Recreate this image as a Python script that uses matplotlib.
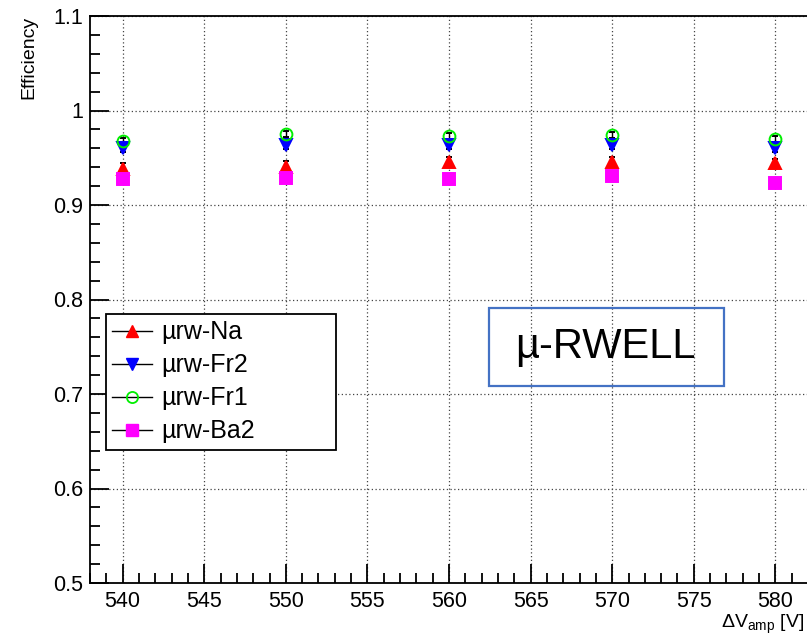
import numpy as np
import matplotlib
matplotlib.use("Agg")
import matplotlib.pyplot as plt
from matplotlib.lines import Line2D
from matplotlib.transforms import IdentityTransform
from matplotlib.ticker import MultipleLocator

plt.rcParams['font.family'] = ['Liberation Sans', 'DejaVu Sans']
plt.rcParams['mathtext.fontset'] = 'custom'
plt.rcParams['mathtext.rm'] = 'Liberation Sans'
plt.rcParams['mathtext.it'] = 'Liberation Sans:italic'

# amplification voltage [V]
hv = [540, 550, 560, 570, 580]

# efficiency per chamber, with errors
eff_na = [0.938, 0.9405, 0.946, 0.946, 0.944]
err_na = [0.006, 0.006, 0.005, 0.005, 0.005]
eff_fr2 = [0.9606, 0.9635, 0.9635, 0.9635, 0.960]
err_fr2 = [0.004, 0.004, 0.004, 0.004, 0.004]
eff_fr1 = [0.968, 0.975, 0.973, 0.974, 0.9695]
err_fr1 = [0.003, 0.003, 0.003, 0.003, 0.003]
eff_ba2 = [0.927, 0.9286, 0.9275, 0.931, 0.9236]
err_ba2 = [0.005, 0.005, 0.005, 0.005, 0.005]

labels = ['µrw-Na', 'µrw-Fr2', 'µrw-Fr1', 'µrw-Ba2']

W, H = 807, 634
fig = plt.figure(figsize=(W / 100, H / 100), dpi=100)
ax = fig.add_axes([90 / W, (H - 583) / H, 718 / W, 567 / H])

series = [
    (eff_na, err_na, '^', 'red', 'red', 8),
    (eff_fr2, err_fr2, 'v', 'blue', 'blue', 8),
    (eff_fr1, err_fr1, 'o', 'none', '#00ee00', 8.5),
    (eff_ba2, err_ba2, 's', '#ff00ff', '#ff00ff', 8),
]
for y, e, m, fc, ec, ms in series:
    ax.errorbar(hv, y, yerr=e, fmt=m, mfc=fc, mec=ec, ms=ms, mew=1.4,
                ecolor='black', elinewidth=1.0, capsize=2, capthick=1.0, zorder=3)

ax.set_xlim(538, 582)
ax.set_ylim(0.5, 1.1)
ax.xaxis.set_major_locator(MultipleLocator(5))
ax.xaxis.set_minor_locator(MultipleLocator(1))
ax.yaxis.set_major_locator(MultipleLocator(0.1))
ax.yaxis.set_minor_locator(MultipleLocator(0.02))
ax.yaxis.set_major_formatter(plt.FuncFormatter(lambda v, p: '1' if abs(v - 1) < 1e-9 else f'{v:.1f}'))

ax.tick_params(which='both', direction='in', width=1.3, labelsize=15.5)
ax.tick_params(which='major', length=14)
ax.tick_params(which='minor', length=7)
ax.tick_params(axis='x', pad=6)
ax.tick_params(axis='y', pad=5)
for s in ax.spines.values():
    s.set_linewidth(1.3)

ax.grid(True, which='major', color='#444444', linestyle=(0, (1, 2)), linewidth=0.9)
ax.set_axisbelow(True)

ax.set_ylabel('Efficiency', fontsize=14, loc='top', labelpad=11)
fig.text(804 / W, 6 / H, r'ΔV$_{\mathrm{amp}}$ [V]', fontsize=14, ha='right', va='baseline')

# legend: horizontal line through the marker
handles = [
    Line2D([], [], color='black', lw=1, marker='^', mfc='red', mec='red', ms=8),
    Line2D([], [], color='black', lw=1, marker='v', mfc='blue', mec='blue', ms=8),
    Line2D([], [], color='black', lw=1, marker='o', mfc='none', mec='#00ee00', ms=8, mew=1.3),
    Line2D([], [], color='black', lw=1, marker='s', mfc='#ff00ff', mec='#ff00ff', ms=8),
]
leg = ax.legend(handles, labels, loc='upper left',
                bbox_to_anchor=(16 / 718, (583 - 450) / 567, 230 / 718, 136 / 567),
                mode='expand', borderaxespad=0, fontsize=18, frameon=True,
                fancybox=False, framealpha=1, edgecolor='black',
                labelspacing=0.36, borderpad=0.25, handlelength=1.6,
                handletextpad=0.35)
leg.get_frame().set_linewidth(1.3)

# detector label in a blue frame
fig.text(605 / W, (H - 347) / H, 'µ-RWELL', fontsize=30, ha='center', va='center')
box = plt.Rectangle((489, H - 386), 235, 78, transform=IdentityTransform(),
                    fill=False, ec='#4472c4', lw=1.6)
fig.patches.append(box)

fig.savefig('out.png', dpi=100)
